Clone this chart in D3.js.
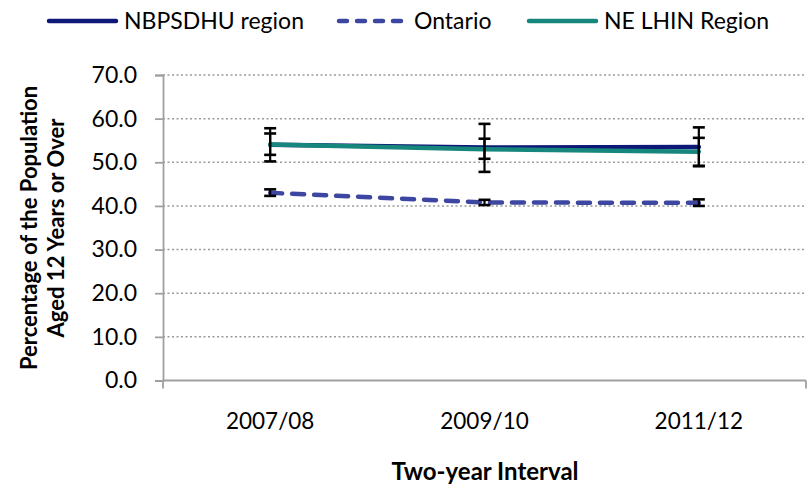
<!DOCTYPE html>
<html><head><meta charset="utf-8">
<script src="https://cdn.jsdelivr.net/npm/d3@7"></script>
<style>
body{margin:0;background:#fff;}
svg{display:block;font-family:Lato,"Open Sans",sans-serif;}
</style></head>
<body><svg id="c" width="811" height="490"></svg>
<script>
const categories = ["2007/08", "2009/10", "2011/12"];
const nbValues = [54.0, 53.4, 53.5];
const nbLower = [50.2, 47.8, 49.1];
const nbUpper = [57.8, 58.8, 58.0];
const onValues = [43.0, 40.8, 40.7];
const onLower = [42.3, 40.2, 40.0];
const onUpper = [43.8, 41.4, 41.5];
const neValues = [54.1, 53.0, 52.4];
const neLower = [51.7, 50.8, 49.2];
const neUpper = [56.6, 55.4, 55.6];
const yTicks = [0, 10, 20, 30, 40, 50, 60, 70];

const series = [
  {name: "NBPSDHU region", values: nbValues, lo: nbLower, hi: nbUpper, color: "#0e1877", dash: null},
  {name: "Ontario", values: onValues, lo: onLower, hi: onUpper, color: "#3d46a0", dash: "12,10"},
  {name: "NE LHIN Region", values: neValues, lo: neLower, hi: neUpper, color: "#17877d", dash: null}
];

const svg = d3.select("#c");
const L = 163, R = 806, T = 75, B = 380.5;
const x = d3.scaleBand().domain(categories).range([L, R]);
const y = d3.scaleLinear().domain([0, 70]).range([B, T]);
const cx = c => x(c) + x.bandwidth() / 2;

// gridlines
svg.append("g").selectAll("line").data(yTicks.filter(d => d > 0)).join("line")
  .attr("x1", L).attr("x2", R).attr("y1", d => y(d)).attr("y2", d => y(d))
  .attr("stroke", "#9a9a9a").attr("stroke-width", 1.5).attr("stroke-dasharray", "2,2.5");

// y axis
const yAxis = svg.append("g").attr("transform", `translate(${L},0)`)
  .call(d3.axisLeft(y).tickValues(yTicks).tickFormat(d3.format(".1f")).tickSize(8).tickPadding(18));
yAxis.select(".domain").attr("stroke", "#a0a0a0").attr("stroke-width", 1.8);
yAxis.selectAll(".tick line").attr("stroke", "#a0a0a0").attr("stroke-width", 1.8);
yAxis.selectAll("text").attr("font-family", "Lato").attr("font-size", 23).attr("fill", "#000");

// x axis
const xAxis = svg.append("g").attr("transform", `translate(0,${B})`)
  .call(d3.axisBottom(x).tickSize(0).tickPadding(33));
xAxis.select(".domain").attr("stroke", "#a0a0a0").attr("stroke-width", 1.8)
  .attr("d", `M${L},0H${R}`);
xAxis.selectAll("text").attr("font-family", "Lato").attr("font-size", 22.5).attr("fill", "#000");
xAxis.append("g").selectAll("line").data([L, R]).join("line")
  .attr("x1", d => d).attr("x2", d => d).attr("y1", 0).attr("y2", 8)
  .attr("stroke", "#a0a0a0").attr("stroke-width", 1.8);

// lines
const line = d3.line().x((d, i) => cx(categories[i])).y(d => y(d));
series.forEach(s => {
  svg.append("path").datum(s.values).attr("d", line).attr("fill", "none")
    .attr("stroke", s.color).attr("stroke-width", 4.5)
    .attr("stroke-linecap", "round")
    .attr("stroke-dasharray", s.dash);
});

// error bars
series.forEach(s => {
  const g = svg.append("g");
  categories.forEach((c, i) => {
    const px = cx(c);
    g.append("line").attr("x1", px).attr("x2", px).attr("y1", y(s.lo[i])).attr("y2", y(s.hi[i]))
      .attr("stroke", "#000").attr("stroke-width", 2.2);
    [s.lo[i], s.hi[i]].forEach(v => {
      g.append("line").attr("x1", px - 6).attr("x2", px + 6).attr("y1", y(v)).attr("y2", y(v))
        .attr("stroke", "#000").attr("stroke-width", 2.6);
    });
  });
});

// axis titles
svg.append("text").attr("x", 485).attr("y", 480).attr("text-anchor", "middle")
  .attr("font-family", "Lato").attr("font-weight", "bold").attr("font-size", 24).text("Two-year Interval");
const yt = svg.append("text").attr("transform", `translate(37,228) rotate(-90)`)
  .attr("text-anchor", "middle").attr("font-family", "Lato").attr("font-weight", "bold").attr("font-size", 22);
yt.append("tspan").attr("x", 0).attr("y", 0).text("Percentage of the Population");
yt.append("tspan").attr("x", 0).attr("y", 27).text("Aged 12 Years or Over");

// legend
const legendX = [47, 337, 527];
series.forEach((s, i) => {
  const g = svg.append("g").attr("transform", `translate(${legendX[i]},21)`);
  g.append("line").attr("x1", 2).attr("x2", 69).attr("y1", 0).attr("y2", 0)
    .attr("stroke", s.color).attr("stroke-width", 4.5).attr("stroke-linecap", "round")
    .attr("stroke-dasharray", s.dash ? "8,10" : null);
  g.append("text").attr("x", 77).attr("y", 8).attr("font-family", "Lato").attr("font-size", 23)
    .attr("fill", "#000").text(s.name);
});
</script></body></html>
